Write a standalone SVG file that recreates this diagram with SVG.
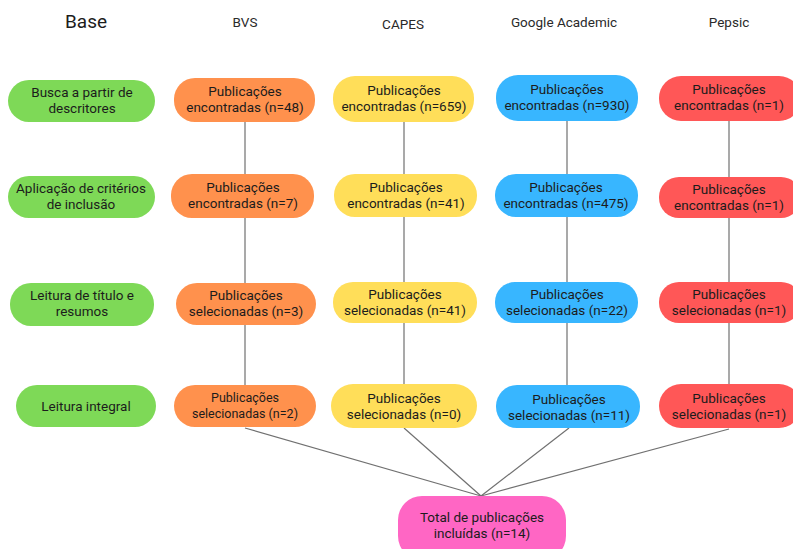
<svg xmlns="http://www.w3.org/2000/svg" width="793" height="549" viewBox="0 0 793 549">
<style>
text{font-family:Roboto,"Liberation Sans",sans-serif;fill:#1c1c1c;text-anchor:middle;font-size:13.5px}
.h{font-size:13.5px;fill:#2a2a2a}
.hb{font-size:19px}
.g{fill:#7ED957}.o{fill:#FF914D}.y{fill:#FFDE59}.b{fill:#38B6FF}.r{fill:#FF5757}.p{fill:#FF66C4}
.c line{stroke:#707070;stroke-width:1.2}
.s{font-size:12.5px}
</style>
<rect width="793" height="549" fill="#fff"/>
<g id="headers">
<text class="hb" x="86" y="28">Base</text>
<text class="h" x="245" y="27">BVS</text>
<text class="h" x="403" y="29">CAPES</text>
<text class="h" x="564" y="27">Google Academic</text>
<text class="h" x="729" y="27">Pepsic</text>
</g>
<g class="c" id="connectors">
<line x1="245" y1="122" x2="245" y2="385"/>
<line x1="404" y1="122" x2="404" y2="384"/>
<line x1="567" y1="121" x2="567" y2="385"/>
<line x1="729" y1="121" x2="729" y2="384"/>
<line x1="245" y1="428" x2="481" y2="496"/>
<line x1="404" y1="428" x2="481" y2="496"/>
<line x1="569" y1="428" x2="481" y2="496"/>
<line x1="729" y1="429" x2="481" y2="496"/>
</g>
<g id="base1"><rect class="g" x="8" y="80" width="147" height="42" rx="21"/><text x="82" y="97">Busca a partir de</text><text x="82" y="113">descritores</text></g>
<g id="base2"><rect class="g" x="8" y="176" width="147" height="42" rx="21"/><text x="81" y="193">Aplicação de critérios</text><text x="81" y="209">de inclusão</text></g>
<g id="base3"><rect class="g" x="10" y="283" width="144" height="43" rx="21"/><text x="82" y="300">Leitura de título e</text><text x="82" y="316">resumos</text></g>
<g id="base4"><rect class="g" x="16" y="385" width="140" height="42" rx="21"/><text x="86" y="411">Leitura integral</text></g>

<g id="bvs1"><rect class="o" x="174" y="78" width="141" height="44" rx="21"/><text x="245" y="96">Publicações</text><text x="245" y="112">encontradas (n=48)</text></g>
<g id="bvs2"><rect class="o" x="171" y="174" width="143" height="44" rx="21"/><text x="243" y="192">Publicações</text><text x="243" y="208">encontradas (n=7)</text></g>
<g id="bvs3"><rect class="o" x="176" y="283" width="140" height="42" rx="21"/><text x="246" y="300">Publicações</text><text x="246" y="316">selecionadas (n=3)</text></g>
<g id="bvs4"><rect class="o" x="174" y="385" width="142" height="42" rx="21"/><text class="s" x="245" y="402">Publicações</text><text class="s" x="245" y="418">selecionadas (n=2)</text></g>

<g id="capes1"><rect class="y" x="333" y="76" width="141" height="46" rx="22"/><text x="404" y="95">Publicações</text><text x="404" y="111">encontradas (n=659)</text></g>
<g id="capes2"><rect class="y" x="334" y="174" width="143" height="43" rx="21"/><text x="406" y="192">Publicações</text><text x="406" y="208">encontradas (n=41)</text></g>
<g id="capes3"><rect class="y" x="333" y="282" width="144" height="41" rx="20"/><text x="405" y="299">Publicações</text><text x="405" y="315">selecionadas (n=41)</text></g>
<g id="capes4"><rect class="y" x="331" y="384" width="146" height="44" rx="22"/><text x="404" y="403">Publicações</text><text x="404" y="419">selecionadas (n=0)</text></g>

<g id="google1"><rect class="b" x="496" y="75" width="142" height="46" rx="22"/><text x="567" y="94">Publicações</text><text x="567" y="110">encontradas (n=930)</text></g>
<g id="google2"><rect class="b" x="495" y="174" width="143" height="43" rx="21"/><text x="566" y="192">Publicações</text><text x="566" y="208">encontradas (n=475)</text></g>
<g id="google3"><rect class="b" x="495" y="282" width="143" height="41" rx="20"/><text x="567" y="299">Publicações</text><text x="567" y="315">selecionadas (n=22)</text></g>
<g id="google4"><rect class="b" x="496" y="385" width="144" height="43" rx="21"/><text x="569" y="404">Publicações</text><text x="569" y="420">selecionadas (n=11)</text></g>

<g id="pepsic1"><rect class="r" x="659" y="76" width="142" height="45" rx="22"/><text x="729" y="94">Publicações</text><text x="729" y="110">encontradas (n=1)</text></g>
<g id="pepsic2"><rect class="r" x="659" y="177" width="142" height="41" rx="20"/><text x="729" y="194">Publicações</text><text x="729" y="210">encontradas (n=1)</text></g>
<g id="pepsic3"><rect class="r" x="659" y="282" width="142" height="41" rx="20"/><text x="729" y="299">Publicações</text><text x="729" y="315">selecionadas (n=1)</text></g>
<g id="pepsic4"><rect class="r" x="659" y="384" width="142" height="44" rx="22"/><text x="729" y="403">Publicações</text><text x="729" y="419">selecionadas (n=1)</text></g>

<g id="total"><rect class="p" x="398" y="496" width="168" height="64" rx="24"/><text x="482" y="522">Total de publicações</text><text x="482" y="538">incluídas (n=14)</text></g>
</svg>
